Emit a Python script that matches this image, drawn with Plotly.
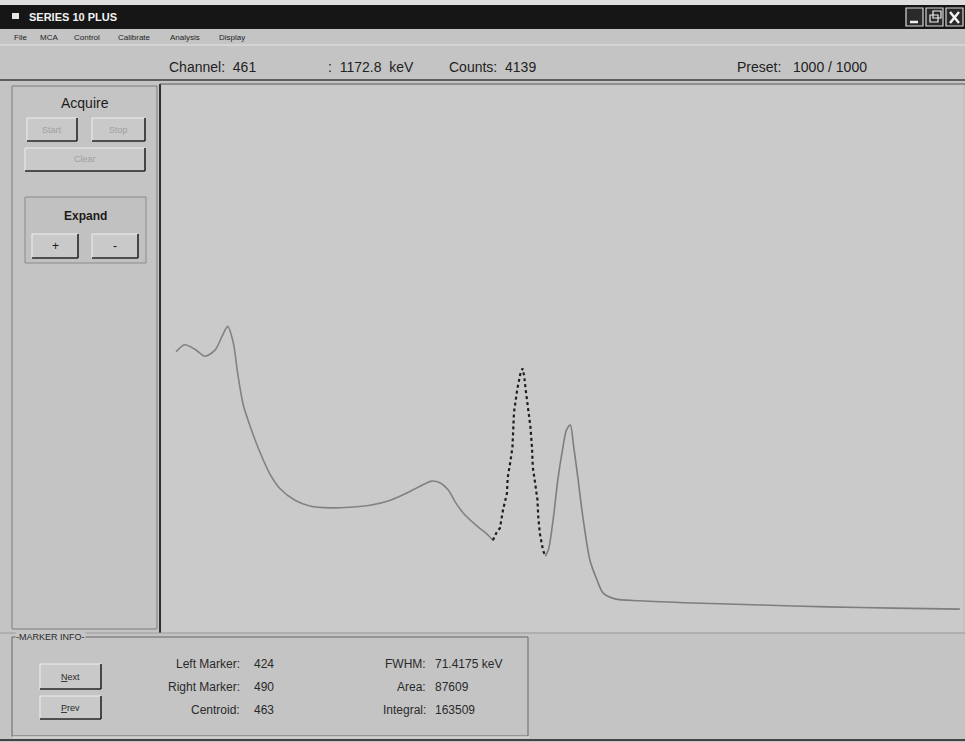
import plotly.graph_objects as go

W, H = 965, 742

# ---------------- data ----------------
bg_channels_left = [18, 29, 42, 55, 68, 77, 84, 91, 97, 104, 113, 125, 138, 151, 170, 189, 215,
                    240, 266, 292, 311, 330, 345, 356, 366, 375, 387, 404, 417, 423]
bg_counts_left = [4400, 4510, 4440, 4330, 4430, 4650, 4800, 4550, 4040, 3560, 3220, 2830, 2480,
                  2250, 2070, 1980, 1950, 1960, 1990, 2070, 2170, 2290, 2370, 2340, 2230, 2040,
                  1840, 1650, 1520, 1440]
roi_channels = [423, 428, 432, 436, 441, 442, 445, 448, 449, 450, 454, 458, 461, 463, 465, 468,
                471, 473, 474, 477, 480, 481, 483, 487, 490]
roi_counts = [1440, 1570, 1630, 1920, 2180, 2430, 2650, 2900, 3170, 3450, 3800, 4050, 4139, 4020,
              3800, 3490, 3220, 2900, 2590, 2340, 2070, 1810, 1550, 1290, 1190]
bg_channels_right = [490, 494, 500, 506, 512, 517, 522, 526, 532, 538, 547, 556, 564, 579, 611,
                     679, 765, 850, 935, 1020]
bg_counts_right = [1190, 1290, 1760, 2390, 2860, 3170, 3250, 2940, 2390, 1810, 1130, 820, 610,
                   520, 490, 455, 425, 395, 375, 360]

menu_items = ["File", "MCA", "Control", "Calibrate", "Analysis", "Display"]
status_channel = "Channel:  461"
status_energy = ":  1172.8  keV"
status_counts = "Counts:  4139"
status_preset = "Preset:   1000 / 1000"
marker_labels_left = ["Left Marker:", "Right Marker:", "Centroid:"]
marker_values_left = ["424", "490", "463"]
marker_labels_right = ["FWHM:", "Area:", "Integral:"]
marker_values_right = ["71.4175 keV", "87609", "163509"]

# ---------------- helpers ----------------
def px(x):
    return x / W

def py(y):
    return 1 - y / H

shapes = []
annotations = []

def rect(x0, y0, x1, y1, fill=None, line=None, lw=0):
    shapes.append(dict(type="rect", xref="paper", yref="paper",
                       x0=px(x0), x1=px(x1), y0=py(y1), y1=py(y0),
                       fillcolor=fill if fill else "rgba(0,0,0,0)",
                       line=dict(color=line if line else "rgba(0,0,0,0)", width=lw)))

def line(x0, y0, x1, y1, color, lw=1):
    shapes.append(dict(type="line", xref="paper", yref="paper",
                       x0=px(x0), x1=px(x1), y0=py(y0), y1=py(y1),
                       line=dict(color=color, width=lw)))

FONT = "Liberation Sans, Arial, sans-serif"

def text(x, y, s, size=11, color="#222222", anchor="left", bold=False, bg=None):
    a = dict(xref="paper", yref="paper", x=px(x), y=py(y), text=("<b>%s</b>" % s) if bold else s,
             showarrow=False, xanchor=anchor, yanchor="middle",
             font=dict(family=FONT, size=size, color=color))
    if bg:
        a["bgcolor"] = bg
        a["borderpad"] = 0
    annotations.append(a)

def button(x0, y0, x1, y1, label, tcolor="#2a2a2a", size=9):
    rect(x0, y0, x1, y1, fill="#c9c9c9")
    line(x0, y0, x1, y0, "#eeeeee", 1)
    line(x0, y0, x0, y1, "#eeeeee", 1)
    line(x0, y1, x1, y1, "#262626", 1.6)
    line(x1, y0, x1, y1, "#262626", 1.6)
    text((x0 + x1) / 2, (y0 + y1) / 2, label, size=size, color=tcolor, anchor="center")

PANEL = "#c4c4c4"

# window frame & title bar
rect(0, 0, W, 5, fill="#dedede")
rect(0, 5, W, 29, fill="#161616")
rect(12, 13, 19, 19, fill="#e6e6e6")
text(27, 17, "SERIES 10 PLUS", size=11, color="#f2f2f2", bold=True)
for bx in (906, 926, 946):
    rect(bx, 8, bx + 17, 26, fill="#2a2a2a", line="#d8d8d8", lw=1.2)
line(910, 22, 918, 22, "#f0f0f0", 2.5)
rect(930, 15, 938, 22, line="#f0f0f0", lw=1.2)
rect(933, 11, 941, 18, line="#f0f0f0", lw=1.2)
line(950, 12, 959, 23, "#f4f4f4", 2.5)
line(959, 12, 950, 23, "#f4f4f4", 2.5)

# menu bar
menu_x = [12, 38, 72, 116, 168, 217]
for mx, m in zip(menu_x, menu_items):
    text(mx, 37, m, size=8, color="#1e1e1e")

# status bar
line(0, 45, W, 45, "#e4e4e4", 1)
line(0, 80, W, 80, "#3c3c3c", 1.5)
text(167, 67, status_channel, size=14)
text(326, 67, status_energy, size=14)
text(447, 67, status_counts, size=14)
text(735, 67, status_preset, size=14)

# left panel
rect(12, 86, 157, 629, line="#7c7c7c", lw=1)
line(160, 84, 160, 633, "#303030", 2)
line(160, 84, W, 84, "#5a5a5a", 1)
text(85, 103, "Acquire", size=14, color="#1c1c1c", anchor="center")
button(27, 118, 77, 141, "Start", tcolor="#a0a0a0", size=9)
button(92, 118, 145, 141, "Stop", tcolor="#a0a0a0", size=9)
button(25, 148, 145, 171, "Clear", tcolor="#a0a0a0", size=9)
rect(25, 197, 146, 263, fill="#c1c1c1", line="#8a8a8a", lw=1)
text(85, 216, "Expand", size=12, color="#1c1c1c", anchor="center", bold=True)
button(32, 234, 78, 258, "+", tcolor="#1a1a1a", size=12)
button(92, 234, 138, 258, "-", tcolor="#1a1a1a", size=12)

# bottom marker info panel
line(0, 633, W, 633, "#9a9a9a", 1)
rect(12, 637, 528, 736, line="#666666", lw=1)
line(13, 737, 529, 737, "#eaeaea", 1)
text(15, 637, "-MARKER INFO-", size=9, color="#2a2a2a", bg=PANEL)
button(40, 664, 101, 689, "<u>N</u>ext", size=9)
button(40, 696, 101, 719, "<u>P</u>rev", size=9)
row_y = [664, 687, 710]
for yy, lab, val in zip(row_y, marker_labels_left, marker_values_left):
    text(242, yy, lab, size=12, color="#2a2a2a", anchor="right")
    text(252, yy, val, size=12, color="#2a2a2a")
for yy, lab, val in zip(row_y, marker_labels_right, marker_values_right):
    text(428, yy, lab, size=12, color="#2a2a2a", anchor="right")
    text(433, yy, val, size=12, color="#2a2a2a")
line(0, 740, W, 740, "#444444", 2)

# ---------------- figure ----------------
fig = go.Figure()
fig.add_trace(go.Scatter(x=bg_channels_left, y=bg_counts_left, mode="lines",
                         line=dict(color="#828282", width=1.6, shape="spline", smoothing=0.8),
                         hoverinfo="skip", showlegend=False))
fig.add_trace(go.Scatter(x=bg_channels_right, y=bg_counts_right, mode="lines",
                         line=dict(color="#7e7e7e", width=1.6, shape="spline", smoothing=0.8),
                         hoverinfo="skip", showlegend=False))
fig.add_trace(go.Scatter(x=roi_channels, y=roi_counts, mode="lines",
                         line=dict(color="#1e1e1e", width=2.2, dash="dot"),
                         showlegend=False))

fig.update_layout(
    width=W, height=H,
    margin=dict(l=0, r=0, t=0, b=0),
    paper_bgcolor=PANEL,
    plot_bgcolor="#cacaca",
    xaxis=dict(domain=[px(162), px(963)], range=[0, 1024], visible=False, fixedrange=True),
    yaxis=dict(domain=[py(632), py(85)], range=[0, 8590], visible=False, fixedrange=True),
    shapes=shapes,
    annotations=annotations,
    showlegend=False,
)

fig.write_html("out.html", config={"displayModeBar": False},
               post_script="document.body.style.margin='0';document.body.style.overflow='hidden';")
